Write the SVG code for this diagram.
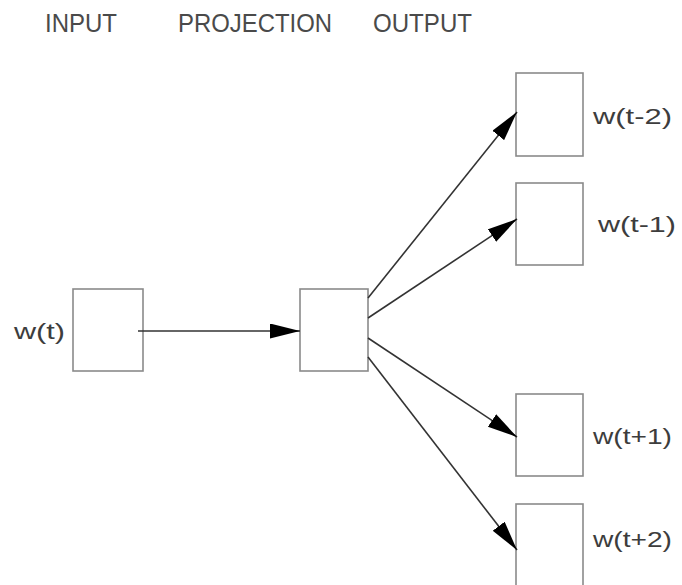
<svg xmlns="http://www.w3.org/2000/svg" width="682" height="585" viewBox="0 0 682 585">
<style>
.hdr{font-family:"Liberation Sans",Arial,sans-serif;font-size:25px;fill:#4a4a4a}
.lbl{font-family:"Liberation Sans",Arial,sans-serif;font-size:22px;fill:#3d3d3d}
.box{fill:#fff;stroke:#8a8a8a;stroke-width:1.6}
.edge{stroke:#333;stroke-width:1.6;fill:none;marker-end:url(#ah)}
</style>
<defs>
<marker id="ah" markerUnits="userSpaceOnUse" markerWidth="31" markerHeight="16" refX="30" refY="7.5" orient="auto">
<path d="M0,0 L30,7.5 L0,15 Z" fill="#000"/>
</marker>
</defs>
<rect width="682" height="585" fill="#fff"/>
<g id="headers">
<text class="hdr" x="45" y="32" textLength="72" lengthAdjust="spacingAndGlyphs">INPUT</text>
<text class="hdr" x="178" y="32" textLength="154" lengthAdjust="spacingAndGlyphs">PROJECTION</text>
<text class="hdr" x="373" y="32" textLength="99" lengthAdjust="spacingAndGlyphs">OUTPUT</text>
</g>
<g id="input">
<rect class="box" x="73" y="289" width="70" height="82"/>
<text class="lbl" x="14" y="339" textLength="51" lengthAdjust="spacingAndGlyphs">w(t)</text>
</g>
<g id="projection">
<rect class="box" x="300" y="289" width="68" height="82"/>
</g>
<g id="out1">
<rect class="box" x="516" y="73" width="67" height="83"/>
<text class="lbl" x="593" y="124" textLength="79" lengthAdjust="spacingAndGlyphs">w(t-2)</text>
</g>
<g id="out2">
<rect class="box" x="516" y="183" width="67" height="82"/>
<text class="lbl" x="598" y="232" textLength="78" lengthAdjust="spacingAndGlyphs">w(t-1)</text>
</g>
<g id="out3">
<rect class="box" x="516" y="394" width="67" height="82"/>
<text class="lbl" x="593" y="444" textLength="79" lengthAdjust="spacingAndGlyphs">w(t+1)</text>
</g>
<g id="out4">
<rect class="box" x="516" y="504" width="67" height="84"/>
<text class="lbl" x="593" y="547" textLength="79" lengthAdjust="spacingAndGlyphs">w(t+2)</text>
</g>
<g id="connectors">
<line class="edge" x1="138" y1="331" x2="300" y2="331"/>
<line class="edge" x1="368" y1="298" x2="517" y2="112"/>
<line class="edge" x1="368" y1="318" x2="517" y2="219"/>
<line class="edge" x1="368" y1="338" x2="517" y2="437"/>
<line class="edge" x1="368" y1="357" x2="517" y2="550"/>
</g>
</svg>
